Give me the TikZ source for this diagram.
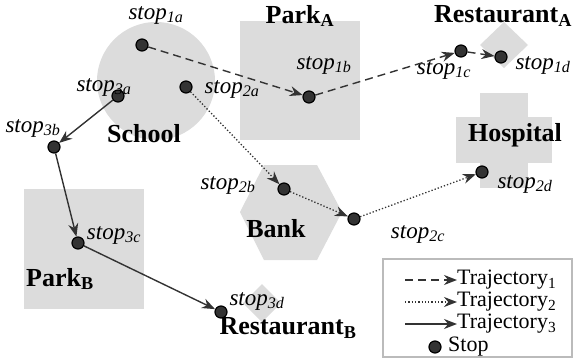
\documentclass[tikz,border=0pt]{standalone}
\usepackage{fontspec}
\setmainfont{Liberation Serif}
\usetikzlibrary{arrows.meta}
\definecolor{areagray}{HTML}{DCDCDC}
\definecolor{ink}{HTML}{333333}
\definecolor{frame}{HTML}{BBBBBB}

\begin{document}
\begin{tikzpicture}[x=1pt,y=-1pt,
  area/.style={fill=areagray, draw=none},
  stopdot/.style={circle, fill=ink, draw=black, line width=1.2pt, minimum size=12pt, inner sep=0pt},
  traj/.style={draw=ink, line width=1.4pt, -{Stealth[length=13pt,width=10pt]}},
  traja/.style={traj, dash pattern=on 8pt off 5pt},
  trajb/.style={traj, line width=1.3pt, dash pattern=on 1.3pt off 2pt},
  trajc/.style={traj},
  place/.style={font=\fontsize{26}{28}\selectfont\bfseries, inner sep=0pt},
  stoplbl/.style={font=\fontsize{23}{26}\selectfont\itshape, inner sep=0pt},
  legtxt/.style={font=\fontsize{22}{24}\selectfont, inner sep=0pt, anchor=west}]
\useasboundingbox (0,0) rectangle (574,362);

% places
\fill[areagray] (156,81) circle (59);
\fill[areagray] (240,21) rectangle (360,140);
\fill[areagray] (480,45) -- (504,22) -- (528,45) -- (504,68) -- cycle;
\fill[areagray] (480,93) rectangle (528,188);
\fill[areagray] (456,117) rectangle (552,163);
\fill[areagray] (264,165) -- (317,165) -- (342,212) -- (317,260) -- (264,260) -- (240,212) -- cycle;
\fill[areagray] (24,189) rectangle (144,309);
\fill[areagray] (262,284) -- (281,303) -- (262,322) -- (243,303) -- cycle;

% place names
\node[place] (school) at (144,134) {School};
\node[place] (parka) at (300,16) {Park\textsubscript{A}};
\node[place] (resta) at (503,16) {Restaurant\textsubscript{A}};
\node[place] (hosp) at (515,135) {Hospital};
\node[place] (bank) at (276,229) {Bank};
\node[place] (parkb) at (60,279) {Park\textsubscript{B}};
\node[place] (restb) at (288,328) {Restaurant\textsubscript{B}};

% stops
\node[stopdot] (s1a) at (142,45) {};
\node[stopdot] (s1b) at (309,97) {};
\node[stopdot] (s1c) at (461,51) {};
\node[stopdot] (s1d) at (501,57) {};
\node[stopdot] (s2a) at (186,87) {};
\node[stopdot] (s2b) at (284,189) {};
\node[stopdot] (s2c) at (354,219) {};
\node[stopdot] (s2d) at (482,172) {};
\node[stopdot] (s3a) at (118,96) {};
\node[stopdot] (s3b) at (54,147) {};
\node[stopdot] (s3c) at (78,243) {};
\node[stopdot] (s3d) at (221,312) {};

% stop labels
\node[stoplbl] (l1a) at (156,15) {stop\textsubscript{1a}};
\node[stoplbl] (l1b) at (324,65) {stop\textsubscript{1b}};
\node[stoplbl] (l1c) at (444,70) {stop\textsubscript{1c}};
\node[stoplbl] (l1d) at (543,65) {stop\textsubscript{1d}};
\node[stoplbl] (l2a) at (232,89) {stop\textsubscript{2a}};
\node[stoplbl] (l2b) at (228,185) {stop\textsubscript{2b}};
\node[stoplbl] (l2c) at (418,234) {stop\textsubscript{2c}};
\node[stoplbl] (l2d) at (525,184) {stop\textsubscript{2d}};
\node[stoplbl] (l3a) at (104,87) {stop\textsubscript{3a}};
\node[stoplbl] (l3b) at (33,128) {stop\textsubscript{3b}};
\node[stoplbl] (l3c) at (114,235) {stop\textsubscript{3c}};
\node[stoplbl] (l3d) at (257,301) {stop\textsubscript{3d}};

% trajectories
\draw[traja] (s1a) -- (s1b);
\draw[traja] (s1b) -- (s1c);
\draw[traja] (s1c) -- (s1d);
\draw[trajb] (s2a) -- (s2b);
\draw[trajb] (s2b) -- (s2c);
\draw[trajb] (s2c) -- (s2d);
\draw[trajc] (s3a) -- (s3b);
\draw[trajc] (s3b) -- (s3c);
\draw[trajc] (s3c) -- (s3d);

% legend
\draw[frame, line width=1.5pt] (383,259) rectangle (572,357);
\coordinate (ka0) at (405,280); \coordinate (ka1) at (457,280);
\coordinate (kb0) at (405,302); \coordinate (kb1) at (457,302);
\coordinate (kc0) at (405,324); \coordinate (kc1) at (457,324);
\draw[traja] (ka0) -- (ka1);
\draw[trajb] (kb0) -- (kb1);
\draw[trajc] (kc0) -- (kc1);
\node[legtxt] (ta) at (457,280) {Trajectory\textsubscript{1}};
\node[legtxt] (tb) at (457,302) {Trajectory\textsubscript{2}};
\node[legtxt] (tc) at (457,324) {Trajectory\textsubscript{3}};
\node[stopdot] (kd) at (435,347) {};
\node[legtxt] (td) at (448,347) {Stop};
\end{tikzpicture}
\end{document}
